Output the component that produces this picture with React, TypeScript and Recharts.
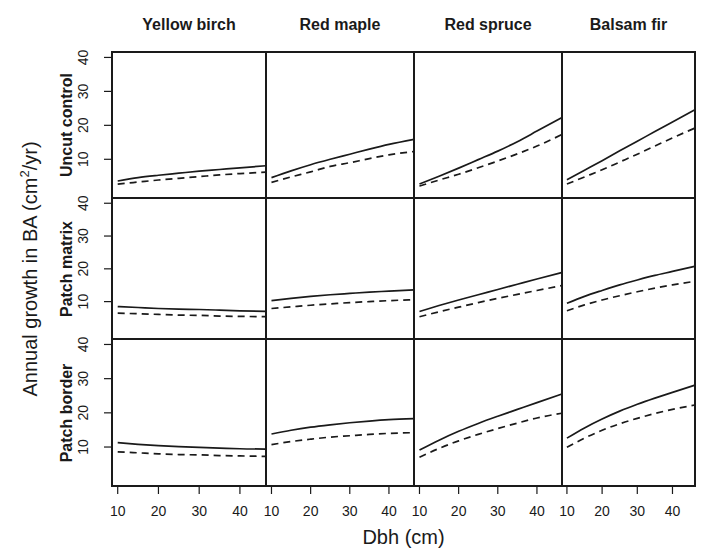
import React from "react";
import { LineChart, Line, XAxis, YAxis } from "recharts";

// ---- categories / labels ----
const species = ["Yellow birch", "Red maple", "Red spruce", "Balsam fir"];
const treatments = ["Uncut control", "Patch matrix", "Patch border"];
const dbh = [10, 15, 20, 25, 30, 35, 40, 46.4];
const xTicks = [10, 20, 30, 40];
const yTicks = [10, 20, 30, 40];

// ---- series values (solid = first curve, dashed = second curve) ----
// Uncut control
const uncutBirchSolid = [3.6, 4.6, 5.3, 5.9, 6.5, 7.0, 7.5, 8.1];
const uncutBirchDashed = [2.7, 3.3, 3.9, 4.4, 4.9, 5.4, 5.8, 6.2];
const uncutMapleSolid = [4.6, 6.6, 8.4, 10.0, 11.5, 13.0, 14.4, 15.9];
const uncutMapleDashed = [3.2, 4.8, 6.3, 7.9, 9.0, 10.2, 11.3, 12.3];
const uncutSpruceSolid = [2.7, 5.0, 7.4, 9.9, 12.4, 15.2, 18.3, 22.3];
const uncutSpruceDashed = [2.1, 3.9, 5.6, 7.5, 9.5, 11.6, 13.9, 17.3];
const uncutFirSolid = [4.0, 6.8, 9.6, 12.5, 15.3, 18.2, 21.0, 24.6];
const uncutFirDashed = [2.7, 4.8, 6.9, 9.2, 11.5, 13.9, 16.3, 19.2];
// Patch matrix
const matrixBirchSolid = [8.5, 8.2, 7.9, 7.7, 7.6, 7.4, 7.2, 7.0];
const matrixBirchDashed = [6.5, 6.3, 6.1, 5.9, 5.8, 5.6, 5.5, 5.4];
const matrixMapleSolid = [10.3, 11.0, 11.6, 12.1, 12.5, 12.9, 13.2, 13.6];
const matrixMapleDashed = [7.9, 8.4, 8.9, 9.3, 9.7, 10.0, 10.3, 10.6];
const matrixSpruceSolid = [7.0, 8.8, 10.5, 12.1, 13.7, 15.3, 16.9, 18.9];
const matrixSpruceDashed = [5.4, 6.9, 8.3, 9.7, 11.0, 12.2, 13.4, 14.9];
const matrixFirSolid = [9.5, 11.6, 13.4, 15.1, 16.6, 18.0, 19.2, 20.8];
const matrixFirDashed = [7.2, 9.0, 10.5, 11.8, 13.0, 14.1, 15.1, 16.2];
// Patch border
const borderBirchSolid = [11.3, 10.8, 10.4, 10.1, 9.9, 9.7, 9.5, 9.4];
const borderBirchDashed = [8.6, 8.3, 8.0, 7.8, 7.7, 7.5, 7.4, 7.25];
const borderMapleSolid = [13.8, 14.9, 15.8, 16.5, 17.1, 17.6, 18.0, 18.3];
const borderMapleDashed = [10.7, 11.6, 12.3, 12.9, 13.3, 13.7, 14.0, 14.2];
const borderSpruceSolid = [9.1, 12.0, 14.6, 16.9, 19.0, 21.0, 23.0, 25.5];
const borderSpruceDashed = [7.0, 9.6, 11.8, 13.7, 15.4, 17.0, 18.5, 19.9];
const borderFirSolid = [12.6, 15.6, 18.2, 20.5, 22.5, 24.3, 26.0, 28.1];
const borderFirDashed = [9.9, 12.6, 14.9, 16.8, 18.4, 19.8, 21.0, 22.3];

const grid: number[][][][] = [
  [
    [uncutBirchSolid, uncutBirchDashed],
    [uncutMapleSolid, uncutMapleDashed],
    [uncutSpruceSolid, uncutSpruceDashed],
    [uncutFirSolid, uncutFirDashed],
  ],
  [
    [matrixBirchSolid, matrixBirchDashed],
    [matrixMapleSolid, matrixMapleDashed],
    [matrixSpruceSolid, matrixSpruceDashed],
    [matrixFirSolid, matrixFirDashed],
  ],
  [
    [borderBirchSolid, borderBirchDashed],
    [borderMapleSolid, borderMapleDashed],
    [borderSpruceSolid, borderSpruceDashed],
    [borderFirSolid, borderFirDashed],
  ],
];

// ---- layout ----
const colEdges = [112, 266, 414, 562, 695];
const rowEdges = [52, 198, 339, 486];
const FONT = "'Liberation Sans', Arial, Helvetica, sans-serif";
const INK = "#1a1a1a";
const Y_AXIS_W = 40;
const X_AXIS_H = 44;
const TOP_PAD = 12;
const SIDE_PAD = 12;

const XTick = (props: any) => {
  const { x, y, payload } = props;
  return (
    <text x={x} y={y + 20} textAnchor="middle" fontSize={14} fill={INK} fontFamily={FONT}>
      {payload.value}
    </text>
  );
};

const YTick = (props: any) => {
  const { x, y, payload } = props;
  return (
    <text
      transform={`translate(${x - 14},${y}) rotate(-90)`}
      textAnchor="middle"
      fontSize={14}
      fill={INK}
      fontFamily={FONT}
    >
      {payload.value}
    </text>
  );
};

function Panel({ row, col }: { row: number; col: number }) {
  const left = colEdges[col];
  const top = rowEdges[row];
  const w = colEdges[col + 1] - left;
  const h = rowEdges[row + 1] - top;
  const isLeft = col === 0;
  const isBottom = row === 2;
  const yw = isLeft ? Y_AXIS_W : 0;
  const xh = isBottom ? X_AXIS_H : 0;
  const tp = isLeft ? TOP_PAD : 0;
  const lp = isBottom && !isLeft ? SIDE_PAD : 0;
  const rp = isBottom ? SIDE_PAD : 0;
  const cw = w + yw + lp + rp;
  const ch = h + xh + tp;
  const [solid, dashed] = grid[row][col];
  const data = dbh.map((d, i) => ({ dbh: d, solid: solid[i], dashed: dashed[i] }));
  return (
    <div style={{ position: "absolute", left: left - yw - lp, top: top - tp, width: cw, height: ch }}>
      <LineChart
        width={cw}
        height={ch}
        data={data}
        margin={{ top: tp, right: rp, bottom: 0, left: lp }}
      >
        <XAxis
          dataKey="dbh"
          type="number"
          domain={[8.6, 46.4]}
          ticks={xTicks}
          hide={!isBottom}
          height={xh}
          axisLine={false}
          tickSize={8}
          tickMargin={2}
          tickLine={{ stroke: INK, strokeWidth: 1.2 }}
          tick={<XTick />}
          interval={0}
        />
        <YAxis
          type="number"
          domain={[-1.4, 41.6]}
          ticks={yTicks}
          hide={!isLeft}
          width={yw}
          axisLine={false}
          tickSize={8}
          tickMargin={2}
          tickLine={{ stroke: INK, strokeWidth: 1.2 }}
          tick={<YTick />}
          interval={0}
        />
        <Line
          type="monotone"
          dataKey="solid"
          stroke={INK}
          strokeWidth={1.7}
          dot={false}
          isAnimationActive={false}
        />
        <Line
          type="monotone"
          dataKey="dashed"
          stroke={INK}
          strokeWidth={1.7}
          strokeDasharray="7 5"
          dot={false}
          isAnimationActive={false}
        />
      </LineChart>
    </div>
  );
}

const rotated = (cx: number, cy: number, size: number, bold: boolean): React.CSSProperties => ({
  position: "absolute",
  left: cx,
  top: cy,
  transform: "translate(-50%, -50%) rotate(-90deg)",
  whiteSpace: "nowrap",
  fontSize: size,
  fontWeight: bold ? 700 : 400,
  fontFamily: FONT,
  color: INK,
  lineHeight: 1,
});

export default function App() {
  const gridLeft = colEdges[0];
  const gridRight = colEdges[colEdges.length - 1];
  const gridTop = rowEdges[0];
  const gridBottom = rowEdges[rowEdges.length - 1];
  return (
    <div style={{ position: "absolute", left: 0, top: 0, width: 704, height: 548, background: "#fff", overflow: "hidden" }}>
      {treatments.map((_, r) =>
        species.map((__, c) => <Panel key={`${r}-${c}`} row={r} col={c} />)
      )}
      {colEdges.map((x, i) => (
        <div
          key={`v${i}`}
          style={{ position: "absolute", left: x - 1, top: gridTop - 1, width: 2, height: gridBottom - gridTop + 2, background: INK }}
        />
      ))}
      {rowEdges.map((y, i) => (
        <div
          key={`h${i}`}
          style={{ position: "absolute", left: gridLeft - 1, top: y - 1, width: gridRight - gridLeft + 2, height: 2, background: INK }}
        />
      ))}
      {species.map((s, c) => (
        <div
          key={s}
          style={{
            position: "absolute",
            left: (colEdges[c] + colEdges[c + 1]) / 2,
            top: 25,
            transform: "translate(-50%, -50%)",
            whiteSpace: "nowrap",
            fontSize: 16,
            fontWeight: 700,
            fontFamily: FONT,
            color: INK,
            lineHeight: 1,
          }}
        >
          {s}
        </div>
      ))}
      {treatments.map((t, r) => (
        <div key={t} style={rotated(67, (rowEdges[r] + rowEdges[r + 1]) / 2, 16, true)}>
          {t}
        </div>
      ))}
      <div style={rotated(29, (gridTop + gridBottom) / 2, 20, false)}>
        Annual growth in BA (cm<sup style={{ fontSize: 13 }}>2</sup>/yr)
      </div>
      <div
        style={{
          position: "absolute",
          left: (gridLeft + gridRight) / 2,
          top: 537,
          transform: "translate(-50%, -50%)",
          whiteSpace: "nowrap",
          fontSize: 20,
          fontFamily: FONT,
          color: INK,
          lineHeight: 1,
        }}
      >
        Dbh (cm)
      </div>
    </div>
  );
}
